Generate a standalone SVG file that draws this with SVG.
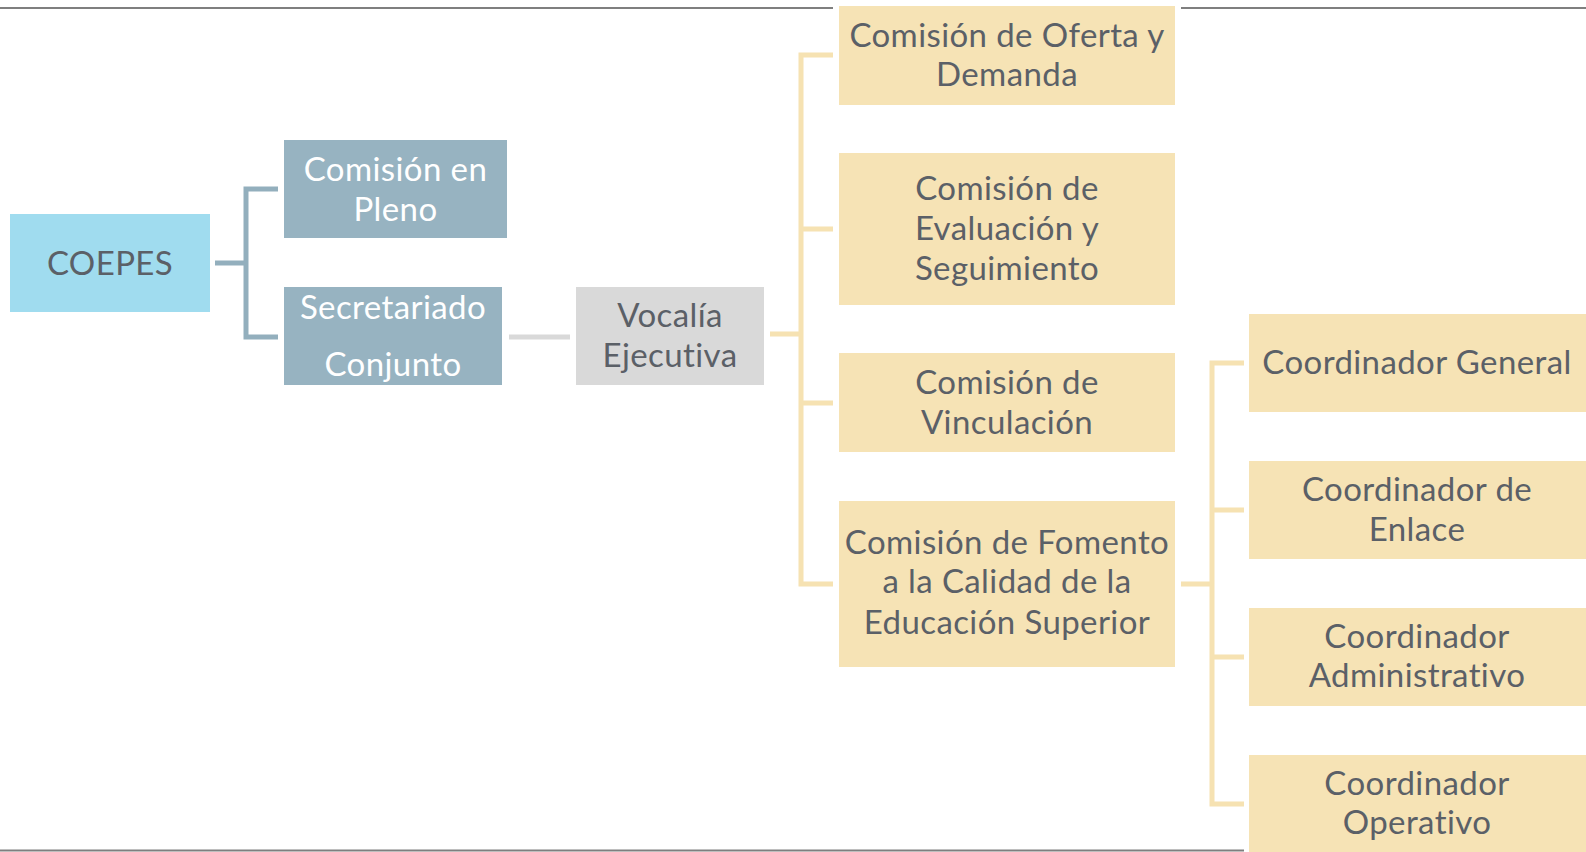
<svg xmlns="http://www.w3.org/2000/svg" width="1586" height="852" viewBox="0 0 1586 852">
<style>
text{font-family:Lato,"Liberation Sans",sans-serif;font-size:33px;letter-spacing:0.4px;text-anchor:middle;fill:#5b6067}
.w{fill:#ffffff}
.cb{fill:#f6e3b5}
.conn{fill:none;stroke-width:5;stroke-linejoin:miter;stroke-linecap:butt}
.rule{stroke:#7f7f7f;stroke-width:2}
</style>
<rect width="1586" height="852" fill="#ffffff"/>
<g id="rules">
<line class="rule" x1="0" y1="8" x2="833" y2="8"/>
<line class="rule" x1="1181" y1="8" x2="1586" y2="8"/>
<line class="rule" x1="0" y1="850.5" x2="1244" y2="850.5"/>
</g>
<g id="connectors">
<path class="conn" stroke="#93afbd" d="M215,263 H246 M278,189 H246 V337 H278"/>
<path class="conn" stroke="#d9d9d9" d="M509,337 H570"/>
<path class="conn" stroke="#f6e2b2" d="M770,334 H801 M833,55 H801 V584 H833 M801,229 H833 M801,403 H833"/>
<path class="conn" stroke="#f6e2b2" d="M1181,584 H1212 M1244,363 H1212 V804 H1244 M1212,510 H1244 M1212,657 H1244"/>
</g>
<g id="coepes">
<rect x="10" y="214" width="200" height="98" fill="#a0dcef"/>
<text x="110" y="274.5">COEPES</text>
</g>
<g id="comision-pleno">
<rect x="284" y="140" width="223" height="98" fill="#97b3c1"/>
<text class="w" x="395.5" y="180.5">Comisión en</text>
<text class="w" x="395.5" y="220.5">Pleno</text>
</g>
<g id="secretariado">
<rect x="284" y="287" width="218" height="98" fill="#97b3c1"/>
<text class="w" x="393" y="319">Secretariado</text>
<text class="w" x="393" y="375.5">Conjunto</text>
</g>
<g id="vocalia">
<rect x="576" y="287" width="188" height="98" fill="#d9d9d9"/>
<text x="670" y="327">Vocalía</text>
<text x="670" y="366.5">Ejecutiva</text>
</g>
<g id="oferta">
<rect class="cb" x="839" y="6" width="336" height="99"/>
<text x="1007" y="47">Comisión de Oferta y</text>
<text x="1007" y="85.5">Demanda</text>
</g>
<g id="evaluacion">
<rect class="cb" x="839" y="153" width="336" height="152"/>
<text x="1007" y="199.5">Comisión de</text>
<text x="1007" y="240">Evaluación y</text>
<text x="1007" y="279.5">Seguimiento</text>
</g>
<g id="vinculacion">
<rect class="cb" x="839" y="353" width="336" height="99"/>
<text x="1007" y="394">Comisión de</text>
<text x="1007" y="433.5">Vinculación</text>
</g>
<g id="fomento">
<rect class="cb" x="839" y="501" width="336" height="166"/>
<text x="1007" y="553.5">Comisión de Fomento</text>
<text x="1007" y="593">a la Calidad de la</text>
<text x="1007" y="633.5">Educación Superior</text>
</g>
<g id="coord-general">
<rect class="cb" x="1249" y="314" width="337" height="98"/>
<text x="1417" y="373.5">Coordinador General</text>
</g>
<g id="coord-enlace">
<rect class="cb" x="1249" y="461" width="337" height="98"/>
<text x="1417" y="501">Coordinador de</text>
<text x="1417" y="540.5">Enlace</text>
</g>
<g id="coord-admin">
<rect class="cb" x="1249" y="608" width="337" height="98"/>
<text x="1417" y="647.5">Coordinador</text>
<text x="1417" y="687">Administrativo</text>
</g>
<g id="coord-operativo">
<rect class="cb" x="1249" y="755" width="337" height="98"/>
<text x="1417" y="794.5">Coordinador</text>
<text x="1417" y="834">Operativo</text>
</g>
</svg>
